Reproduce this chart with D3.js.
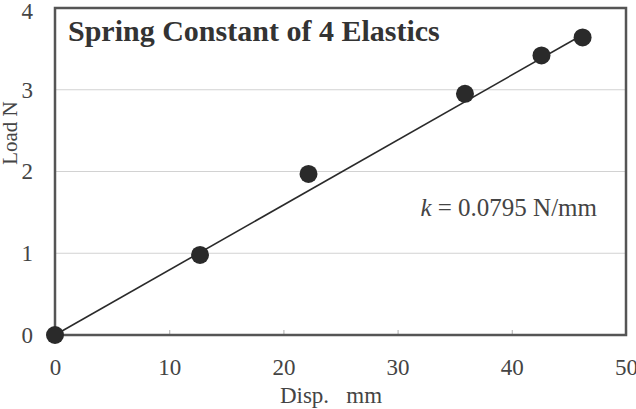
<!DOCTYPE html>
<html>
<head>
<meta charset="utf-8">
<script src="https://cdn.jsdelivr.net/npm/d3@7"></script>
<style>
  html, body { margin: 0; padding: 0; background: #fff; }
  svg { display: block; font-family: "Liberation Serif", "Times New Roman", serif; }
</style>
</head>
<body>
<div id="container"></div>
<script>
// data
const dispMm = [0, 12.7, 22.2, 35.9, 42.6, 46.2];
const loadN = [0, 0.98, 1.97, 2.95, 3.42, 3.64];
const xTicks = [0, 10, 20, 30, 40, 50];
const yTicks = [0, 1, 2, 3, 4];
const springK = 0.0795;
const fitEnd = 46.4;

const width = 636,
  height = 409;
const marginTop = 8,
  marginRight = 10,
  marginBottom = 74,
  marginLeft = 55;

const ink = "#2a2a2a";
const labelColor = "#444";

const svg = d3
  .select("#container")
  .append("svg")
  .attr("width", width)
  .attr("height", height)
  .attr("viewBox", [0, 0, width, height]);

const xScale = d3.scaleLinear([0, 50], [marginLeft, width - marginRight]);
const yScale = d3.scaleLinear([0, 4], [height - marginBottom, marginTop]);

// gridlines
svg
  .append("g")
  .attr("stroke", "#d2d2d2")
  .attr("stroke-width", 1.2)
  .selectAll("line")
  .data(yTicks.filter((d) => d > 0 && d < 4))
  .join("line")
  .attr("x1", xScale(0))
  .attr("x2", xScale(50))
  .attr("y1", (d) => yScale(d))
  .attr("y2", (d) => yScale(d));

// x axis: small inward ticks, labels below
const xAxis = d3
  .axisBottom(xScale)
  .tickValues(xTicks)
  .tickSize(-5)
  .tickFormat(d3.format("d"));

svg
  .append("g")
  .attr("transform", `translate(0, ${yScale(0)})`)
  .call(xAxis)
  .call((g) => g.select(".domain").remove())
  .call((g) => g.selectAll(".tick line").attr("stroke", "#bbb").attr("stroke-width", 1.2))
  .call((g) =>
    g
      .selectAll(".tick text")
      .attr("y", 40)
      .attr("dy", 0)
      .attr("font-family", "Liberation Serif")
      .attr("font-size", 23)
      .attr("fill", labelColor)
  );

// y axis: labels only
const yAxis = d3
  .axisLeft(yScale)
  .tickValues(yTicks)
  .tickSize(0)
  .tickPadding(22)
  .tickFormat(d3.format("d"));

svg
  .append("g")
  .attr("transform", `translate(${marginLeft}, 0)`)
  .call(yAxis)
  .call((g) => g.select(".domain").remove())
  .call((g) =>
    g
      .selectAll(".tick text")
      .attr("dy", (d) => (d === 4 ? "0.45em" : "0.32em"))
      .attr("font-family", "Liberation Serif")
      .attr("font-size", 23)
      .attr("fill", labelColor)
  );

// plot frame
svg
  .append("rect")
  .attr("x", xScale(0))
  .attr("y", yScale(4))
  .attr("width", xScale(50) - xScale(0))
  .attr("height", yScale(0) - yScale(4))
  .attr("fill", "none")
  .attr("stroke", "#555")
  .attr("stroke-width", 2.5);

// fitted line
svg
  .append("line")
  .attr("x1", xScale(0))
  .attr("y1", yScale(0))
  .attr("x2", xScale(fitEnd))
  .attr("y2", yScale(springK * fitEnd))
  .attr("stroke", ink)
  .attr("stroke-width", 1.6);

// points
svg
  .append("g")
  .attr("fill", ink)
  .selectAll("circle")
  .data(d3.range(dispMm.length))
  .join("circle")
  .attr("cx", (i) => xScale(dispMm[i]))
  .attr("cy", (i) => yScale(loadN[i]))
  .attr("r", 9);

// title
svg
  .append("text")
  .attr("x", 68)
  .attr("y", 41)
  .attr("font-size", 30)
  .attr("font-weight", "bold")
  .attr("fill", "#333")
  .text("Spring Constant of 4 Elastics");

// annotation
const note = svg
  .append("text")
  .attr("x", 597)
  .attr("y", 216)
  .attr("text-anchor", "end")
  .attr("font-size", 25)
  .attr("fill", labelColor);
note.append("tspan").attr("font-style", "italic").text("k");
note.append("tspan").text(` = ${springK} N/mm`);

// axis titles
svg
  .append("text")
  .attr("x", 331)
  .attr("y", 403)
  .attr("text-anchor", "middle")
  .attr("font-size", 23)
  .attr("fill", labelColor)
  .attr("xml:space", "preserve")
  .text("Disp.   mm");

svg
  .append("text")
  .attr("transform", "translate(17, 133) rotate(-90)")
  .attr("text-anchor", "middle")
  .attr("font-size", 21)
  .attr("fill", labelColor)
  .text("Load N");
</script>
</body>
</html>
